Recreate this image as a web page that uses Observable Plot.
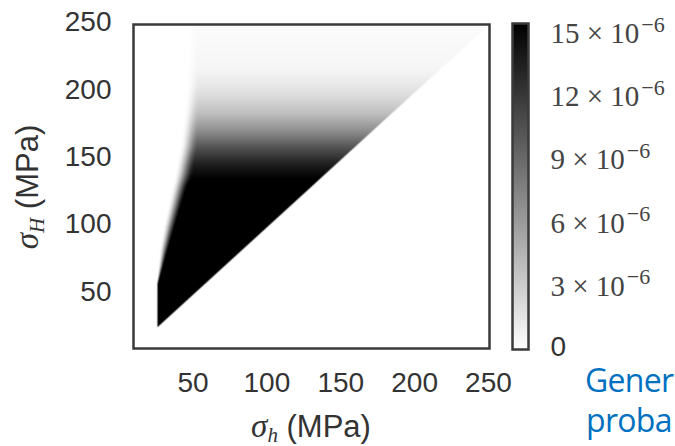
<!DOCTYPE html>
<html>
<head>
<meta charset="utf-8">
<script src="https://cdn.jsdelivr.net/npm/d3@7"></script>
<script src="https://cdn.jsdelivr.net/npm/@observablehq/plot@0.6"></script>
<style>
html, body { margin: 0; padding: 0; background: #fff; overflow: hidden; }
#wrap { position: relative; width: 675px; height: 446px; overflow: hidden; background: #fff; }
#main, #cbar, #over { position: absolute; top: 0; }
#main { left: 0; }
#cbar { left: 500px; }
#over { left: 0; pointer-events: none; }
</style>
</head>
<body>
<div id="wrap">
  <div id="main"></div>
  <div id="cbar"></div>
  <svg id="over" width="675" height="446"></svg>
</div>
<script>
// ---- data ----
const xTicks = [50, 100, 150, 200, 250];
const yTicks = [50, 100, 150, 200, 250];
const xDomain = [9.7, 250.7];
const yDomain = [10, 250.5];
// colour bar (values in units of 1e-6)
const cbTicks = [0, 3, 6, 9, 12, 15];
const cMax = 15.5;
// density profile along sigma_H (1e-6 units)
const profileH = [26, 130, 135, 147, 159, 172, 184.5, 199, 216, 244, 251];
const profileD = [20, 17, 15.6, 13.6, 10.5, 6.7, 3.9, 1.9, 0.6, 0.3, 0.25];
// left boundary of the admissible region: sigma_h where density is zero / full
const edgeH    = [26,   58,   70,   83,   100,  120, 140,  160,  200,  250];
const edgeZero = [25.5, 25.5, 26.5, 27.5, 30,   34,  38,   41.5, 45.5, 47];
const edgeFull = [26.5, 26.5, 30.5, 34.5, 39.5, 45,  50.5, 53.5, 54.5, 55];

const profile = d3.scaleLinear().domain(profileH).range(profileD).clamp(true);
const zeroAt = d3.scaleLinear().domain(edgeH).range(edgeZero).clamp(true);
const fullAt = d3.scaleLinear().domain(edgeH).range(edgeFull).clamp(true);
const smooth = t => t <= 0 ? 0 : t >= 1 ? 1 : t * t * (3 - 2 * t);
function density(sh, sH) {
  const diag = smooth((sH - sh) / 1.2 + 0.5);
  const a = zeroAt(sH), b = fullAt(sH);
  const left = smooth((sh - a) / (b - a));
  return profile(sH) * diag * left;
}

const colorOpts = {type: "linear", domain: [0, cMax], range: ["#ffffff", "#000000"], clamp: true};
const frameColor = "#3a3a3a";

const main = Plot.plot({
  width: 560, height: 446,
  marginLeft: 133, marginRight: 71, marginTop: 24, marginBottom: 98,
  x: {domain: xDomain, label: null},
  y: {domain: yDomain, label: null},
  color: colorOpts,
  style: {fontFamily: "'Liberation Sans', Arial, sans-serif", fontSize: "28px", color: "#333", background: "transparent"},
  marks: [
    Plot.raster({x1: xDomain[0], x2: xDomain[1], y1: yDomain[0], y2: yDomain[1], fill: density, pixelSize: 0.5, imageRendering: "auto"}),
    Plot.frame({stroke: frameColor, strokeWidth: 2.5}),
    Plot.axisX({ticks: xTicks, tickSize: 0, tickPadding: 24, label: null}),
    Plot.axisY({ticks: yTicks, tickSize: 0, tickPadding: 22, dy: -3, label: null})
  ]
});
document.getElementById("main").appendChild(main);

// colour bar
const serif = "'Liberation Serif', 'Times New Roman', serif";
const mFont = 29, sFont = 22;
const ctx = document.createElement("canvas").getContext("2d");
ctx.font = `${mFont}px 'Liberation Serif'`;
const mant = d => `${d} × 10`;
const nonzero = cbTicks.filter(d => d > 0);
const expMarks = nonzero.map(d => Plot.text([d], {
  y: v => v, text: () => "−6", frameAnchor: "right", textAnchor: "start",
  dx: 22 + ctx.measureText(mant(d)).width + 2, dy: -9,
  fontFamily: serif, fontSize: sFont, fill: "#444", lineAnchor: "middle"
}));
const cb = Plot.plot({
  width: 175, height: 446,
  marginLeft: 12, marginRight: 147, marginTop: 23, marginBottom: 97,
  x: {domain: [0, 1], axis: null},
  y: {domain: [0, cMax], axis: null},
  color: colorOpts,
  style: {background: "transparent", overflow: "visible"},
  marks: [
    Plot.raster({x1: 0, x2: 1, y1: 0, y2: cMax, fill: (x, y) => y, pixelSize: 0.5, imageRendering: "auto"}),
    Plot.frame({stroke: frameColor, strokeWidth: 2.5}),
    Plot.text([0], {y: d => d, text: d => String(d), frameAnchor: "right", textAnchor: "start", dx: 22, dy: -2,
      fontFamily: "'Liberation Sans', Arial, sans-serif", fontSize: 28, fill: "#333", lineAnchor: "middle"}),
    Plot.text(nonzero, {y: d => d, text: mant, frameAnchor: "right", textAnchor: "start", dx: 22,
      fontFamily: serif, fontSize: mFont, fill: "#444", lineAnchor: "middle"}),
    ...expMarks
  ]
});
document.getElementById("cbar").appendChild(cb);

// axis labels and clipped slide text
const over = d3.select("#over");
const xl = over.append("text").attr("x", 311).attr("y", 437).attr("text-anchor", "middle")
  .attr("font-family", "'Liberation Sans', Arial, sans-serif").attr("font-size", 31).attr("fill", "#333");
xl.append("tspan").attr("font-family", serif).attr("font-style", "italic").attr("font-size", 33).text("σ");
xl.append("tspan").attr("font-family", serif).attr("font-style", "italic").attr("font-size", 21).attr("dy", 5).text("h");
xl.append("tspan").attr("dy", -5).text(" (MPa)");

const yl = over.append("text").attr("transform", "translate(38,187) rotate(-90)").attr("text-anchor", "middle")
  .attr("font-family", "'Liberation Sans', Arial, sans-serif").attr("font-size", 31).attr("fill", "#333");
yl.append("tspan").attr("font-family", serif).attr("font-style", "italic").attr("font-size", 33).text("σ");
yl.append("tspan").attr("font-family", serif).attr("font-style", "italic").attr("font-size", 21).attr("dy", 6).text("H");
yl.append("tspan").attr("dy", -6).text(" (MPa)");

const slide = ["Gener", "proba"];
over.selectAll("text.slide").data(slide).join("text").attr("class", "slide")
  .attr("x", (d, i) => i ? 586 : 585).attr("y", (d, i) => 392 + 40 * i)
  .attr("font-family", "'Open Sans', sans-serif").attr("font-size", 32).attr("letter-spacing", -0.7)
  .attr("fill", "#0070C0").text(d => d);
</script>
</body>
</html>
